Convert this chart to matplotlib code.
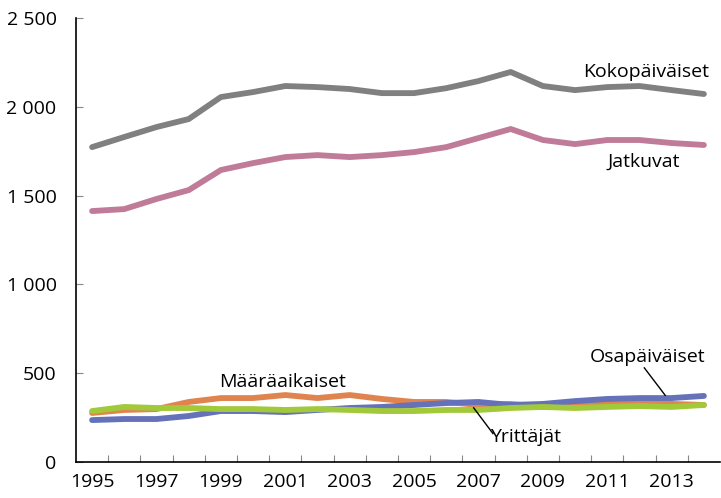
import matplotlib
matplotlib.use("Agg")
import matplotlib.pyplot as plt
from matplotlib.ticker import FuncFormatter

years = list(range(1995, 2015))

kokopaivaiset = [1773, 1830, 1886, 1931, 2055, 2083, 2117, 2111, 2100, 2077,
                 2077, 2105, 2145, 2196, 2117, 2094, 2111, 2117, 2094, 2072]
jatkuvat = [1413, 1424, 1481, 1531, 1644, 1683, 1717, 1728, 1717, 1728,
            1745, 1773, 1824, 1875, 1813, 1790, 1813, 1813, 1796, 1785]
maaraaikaiset = [276, 293, 298, 338, 360, 360, 377, 360, 377, 355,
                 338, 338, 321, 327, 310, 321, 332, 332, 327, 321]
osapaivaiset = [236, 242, 242, 259, 287, 287, 281, 293, 304, 310,
                321, 332, 338, 321, 327, 343, 355, 360, 360, 372]
yrittajat = [287, 310, 304, 304, 298, 298, 293, 298, 293, 287,
             287, 293, 293, 304, 310, 304, 310, 315, 310, 321]

plt.rcParams["font.family"] = ["Open Sans", "DejaVu Sans"]

fig = plt.figure(figsize=(7.21, 4.98), dpi=100)
ax = fig.add_axes([76 / 721, 1 - 462 / 498, (720 - 76) / 721, (462 - 18) / 498])

x = list(range(len(years)))
lw = 4.2
series = [
    (maaraaikaiset, "#e0844f"),
    (osapaivaiset, "#6572b9"),
    (yrittajat, "#a2c93a"),
    (jatkuvat, "#bf7b97"),
    (kokopaivaiset, "#808080"),
]
for vals, col in series:
    ax.plot(x, vals, color=col, lw=lw, solid_capstyle="round", solid_joinstyle="round")

ax.set_xlim(-0.5, len(years) - 0.5)
ax.set_ylim(0, 2500)
ax.set_yticks(range(0, 2501, 500))
ax.yaxis.set_major_formatter(FuncFormatter(lambda v, p: f"{int(v):,}".replace(",", " ")))
ax.set_xticks(x[::2])
ax.set_xticklabels([str(y) for y in years[::2]])
ax.set_xticks([i + 0.5 for i in x[:-1]], minor=True)
ax.tick_params(axis="x", which="major", length=0, pad=8, labelsize=14)
ax.tick_params(axis="x", which="minor", direction="in", length=5, color="#888888", width=0.8)
ax.tick_params(axis="y", direction="in", length=5, color="#888888", width=0.8, labelsize=14, pad=14)

for s in ["top", "right"]:
    ax.spines[s].set_visible(False)
for s in ["left", "bottom"]:
    ax.spines[s].set_linewidth(1.2)

fs = 14
ax.text(15.25, 2195, "Kokopäiväiset", fontsize=fs, va="center", ha="left")
ax.text(16.0, 1690, "Jatkuvat", fontsize=fs, va="center", ha="left")
ax.text(3.95, 450, "Määräaikaiset", fontsize=fs, va="center", ha="left")
ax.text(15.45, 590, "Osapäiväiset", fontsize=fs, va="center", ha="left")
ax.text(12.35, 140, "Yrittäjät", fontsize=fs, va="center", ha="left")

ax.plot([17.15, 17.8], [530, 375], color="black", lw=1)
ax.plot([11.85, 12.45], [305, 160], color="black", lw=1)

fig.savefig("out.png", dpi=100)
